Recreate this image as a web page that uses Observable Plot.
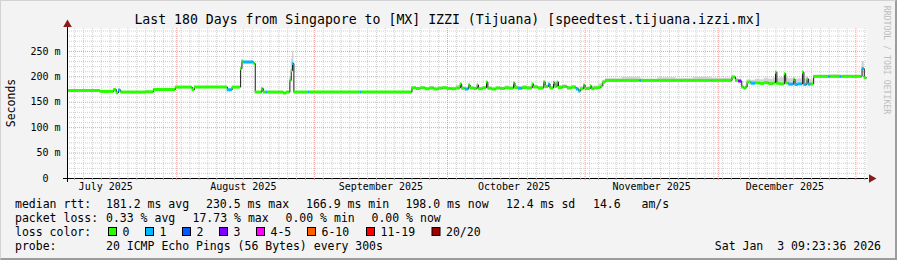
<!DOCTYPE html>
<html><head><meta charset="utf-8">
<script src="https://cdn.jsdelivr.net/npm/d3@7"></script>
<script src="https://cdn.jsdelivr.net/npm/@observablehq/plot@0.6"></script>
<style>
html,body{margin:0;padding:0;background:#f3f3f3;}
#wrap{position:relative;width:897px;height:260px;overflow:hidden;background:#f3f3f3;}
#wrap svg{display:block;}
#shade{position:absolute;left:0;top:0;width:897px;height:260px;box-sizing:border-box;border-style:solid;border-width:1px 2px 2px 1px;border-color:#d2d2d2 #9c9c9c #9c9c9c #d2d2d2;pointer-events:none;}
</style></head><body><div id="wrap"></div>
<script>
const FONT = "'DejaVu Sans Mono', monospace";
const startTime = new Date("2025-07-07T09:23:36Z");
const endTime = new Date("2026-01-03T09:23:36Z");

// days since start of window
const tDays = [
  0, 7.4, 10.4, 11.0, 11.5, 12.0, 17.6, 19.4, 24.3, 28.1, 28.6, 36.0, 37.1,
  39.0, 39.3, 39.6, 41.9, 42.0, 42.3, 43.8, 44.1, 44.8, 45.1, 48.7, 49.3,
  50.1, 50.4, 50.7, 51.0, 54.3, 54.6, 66.0, 66.3,
  77.6, 78.6, 79.6, 80.6, 81.6, 82.6, 83.6, 84.6, 85.6, 86.6, 87.6, 88.5, 88.8,
  89.6, 90.4, 90.7, 91.6, 92.3, 92.6, 93.6, 94.4, 94.7, 95.6, 96.6, 97.6, 98.6,
  99.6, 100.5, 100.8, 101.6, 102.6, 103.6, 104.7, 105.0, 106.0, 107.3, 107.6,
  108.4, 108.7, 109.5, 109.8, 110.3, 110.6, 111.6, 112.6, 113.6, 114.6, 115.2,
  115.6, 116.3, 116.6, 117.8, 118.1, 118.6, 119.6, 120.2, 120.6,
  121.2, 125.0, 129.0, 129.3, 133.0, 137.0, 141.0, 145.0, 149.7, 150.5, 151.2,
  151.9, 152.4, 152.8, 153.1,
  154.0, 155.0, 156.0, 157.0, 158.0, 159.0, 159.5, 159.8, 160.5, 161.5, 161.8,
  162.5, 163.6, 163.9, 164.6, 165.6, 165.9, 166.6, 166.9, 167.5, 168.1, 171.5,
  171.8, 174.1, 174.4, 179.0, 179.5, 180.0
];
// median rtt (ms)
const rttMs = [
  173, 171.3, 175, 168.5, 174, 170, 170.5, 175, 179.8, 174.5, 179.8, 174.5, 179.8,
  216, 230.5, 229, 229, 226, 170, 177, 170, 170, 170, 168, 170,
  193, 212, 226, 170, 170, 170, 170, 170,
  178.5, 177.0, 178.5, 176.5, 178.0, 176.0, 177.5, 178.5, 177.0, 176.5, 178.0, 186.0, 177.5,
  176.0, 184.0, 178.0, 177.0, 184.0, 176.5, 178.5, 189.6, 177.5, 176.0, 178.0, 177.0, 178.5,
  177.5, 188.0, 179.0, 177.5, 179.0, 178.0, 186.0, 180.0, 178.0, 190.0, 181.0,
  186.0, 178.0, 189.0, 181.0, 190.0, 179.0, 181.0, 178.0, 179.5, 176.0, 172.0,
  176.5, 184.0, 177.0, 182.0, 176.5, 178.0, 179.0, 182.0, 189.6,
  192.9, 192.9, 192.9, 192.9, 192.9, 192.9, 192.9, 192.9, 199.5, 192.9, 191.6,
  179.8, 177.5, 180.0, 189.6,
  187.5, 188.0, 187.0, 188.5, 186.5, 188.0, 209.0, 187.0, 186.0, 206.0, 188.0,
  185.5, 195.0, 185.0, 186.0, 209.0, 185.0, 196.0, 185.5, 186.0, 200.8, 200.8,
  200.8, 200.8, 200.8, 216.0, 198.0, 198.0
];
// lost pings out of 20
const lossN = [
  0, 0, 0, 0, 1, 0, 0, 0, 0, 0, 0, 1, 0,
  0, 0, 1, 0, 0, 0, 0, 0, 1, 0, 0, 0,
  0, 0, 1, 0, 1, 0, 1, 0,
  0, 0, 0, 0, 0, 0, 0, 0, 0, 0, 0, 0, 0,
  1, 0, 0, 0, 0, 0, 0, 0, 0, 0, 0, 0, 0,
  0, 0, 0, 1, 0, 0, 0, 0, 0, 0, 0,
  1, 0, 0, 0, 0, 0, 0, 0, 0, 1, 1,
  0, 0, 0, 0, 0, 0, 0, 0, 0,
  0, 0, 1, 0, 0, 0, 0, 0, 0, 0, 3,
  0, 0, 0, 0,
  1, 0, 0, 0, 0, 0, 0, 0, 0, 0, 0,
  1, 0, 1, 1, 0, 1, 0, 1, 0, 0, 1,
  0, 1, 0, 1, 0, 0
];
// upper edge of the ping "smoke" (ms)
const smokeMs = [
  174, 172.5, 176, 170, 175, 171, 172, 176, 181, 176, 181, 176, 181,
  220, 234, 231, 230, 228, 171, 178, 171, 171, 171, 169, 171,
  200, 235, 250, 171, 171, 171, 171, 171,
  180, 179, 180, 178, 181, 178, 180, 180, 179, 179, 183, 188, 180,
  178, 187, 180, 179, 186, 179, 181, 191, 180, 178, 180, 179, 182,
  180, 190, 182, 180, 183, 181, 188, 183, 181, 192, 184,
  188, 181, 191, 185, 191, 183, 184, 181, 183, 179, 176,
  180, 186, 180, 184, 180, 182, 186, 188, 193,
  196, 199, 197, 195, 198, 196, 199, 197, 202, 196, 195,
  183, 181, 184, 194,
  193, 195, 194, 197, 195, 198, 210, 196, 198, 208, 197,
  196, 200, 195, 196, 211, 196, 200, 195, 194, 203, 203,
  204, 202, 203, 230, 200, 198
];

const yTicks = [0, 50, 100, 150, 200, 250];
const monthStarts = ["2025-08-01", "2025-09-01", "2025-10-01", "2025-11-01", "2025-12-01", "2026-01-01"];
const monthLabelDates = ["2025-07-16", "2025-08-16", "2025-09-16", "2025-10-16", "2025-11-16", "2025-12-16"];
const monthLabels = ["July 2025", "August 2025", "September 2025", "October 2025", "November 2025", "December 2025"];
const lossBins = ["0", "1", "2", "3", "4-5", "6-10", "11-19", "20/20"];
const lossColors = ["#26ff00", "#00b8ff", "#0059ff", "#7e00ff", "#ff00ff", "#ff5e00", "#ff0000", "#a10000"];
const rttStats = ["181.2 ms avg", "230.5 ms max", "166.9 ms min", "198.0 ms now", "12.4 ms sd", "14.6   am/s"];
const lossStats = ["0.33 % avg", "17.73 % max", "0.00 % min", "0.00 % now"];
const titleText = "Last 180 Days from Singapore to [MX] IZZI (Tijuana) [speedtest.tijuana.izzi.mx]";
const probeText = "20 ICMP Echo Pings (56 Bytes) every 300s";
const stampText = "Sat Jan  3 09:23:36 2026";

function lossBin(n) {
  if (n <= 3) return n;
  if (n <= 5) return 4;
  if (n <= 10) return 5;
  if (n <= 19) return 6;
  return 7;
}

const DAY = 864e5;
const samples = tDays.map((d, i) => ({
  t: new Date(startTime.getTime() + d * DAY),
  v: rttMs[i], loss: lossN[i], smoke: smokeMs[i]
}));
const segs = samples.map((s, i) => ({
  x1: s.t, x2: i + 1 < samples.length ? samples[i + 1].t : endTime,
  y: s.v, c: lossColors[lossBin(s.loss)]
}));

const majorX = monthStarts.map(s => new Date(s + "T00:00:00Z"));
const majorMs = majorX.map(d => +d);
const minorX = [];
for (let t = Date.UTC(2025, 6, 9); t < +endTime; t += 2 * DAY) {
  if (!majorMs.includes(t)) minorX.push(new Date(t));
}
const minorY = d3.range(10, 295, 10).filter(v => v % 50 !== 0);
const majorY = yTicks.filter(v => v > 0);
const labelDates = monthLabelDates.map(s => new Date(s + "T00:00:00Z"));
const labelMs = labelDates.map(d => +d);

const chart = Plot.plot({
  width: 897, height: 260,
  marginLeft: 67, marginRight: 31, marginTop: 28, marginBottom: 82,
  x: {type: "utc", domain: [startTime, endTime]},
  y: {domain: [0, 295]},
  color: {type: "identity"},
  style: {background: "transparent", fontFamily: FONT, color: "black", overflow: "visible"},
  marks: [
    Plot.frame({fill: "white", stroke: null}),
    Plot.ruleY(minorY, {stroke: "#cfcfcf", strokeDasharray: "1,1"}),
    Plot.ruleX(minorX, {stroke: "#cfcfcf", strokeDasharray: "1,1"}),
    Plot.ruleY(majorY, {stroke: "#f09a9a", strokeDasharray: "1,1"}),
    Plot.ruleX(majorX, {stroke: "#f09a9a", strokeDasharray: "1,1"}),
    Plot.areaY(samples, {x: "t", y1: "v", y2: "smoke", curve: "step-after", fill: "#d2d2d2"}),
    Plot.line(samples, {x: "t", y: "v", curve: "step-after", stroke: "#1a1a1a", strokeWidth: 1}),
    Plot.ruleY(segs, {x1: "x1", x2: "x2", y: "y", stroke: "c", strokeWidth: 3}),
    Plot.ruleY([0], {stroke: "black", insetLeft: -4, insetRight: -2}),
    Plot.ruleX([startTime], {stroke: "black", insetTop: -4, insetBottom: -4}),
    Plot.dot([0], {frameAnchor: "top-left", dy: -4, symbol: "triangle", r: 3.2, fill: "#8b1a1a", stroke: null}),
    Plot.dot([0], {frameAnchor: "bottom-right", dx: 5, symbol: "triangle", rotate: 90, r: 3.2, fill: "#8b1a1a", stroke: null}),
    Plot.axisY({ticks: yTicks, tickSize: 0, tickPadding: 7, fontSize: 10, label: null,
      tickFormat: d => d === 0 ? "0\u00a0\u00a0" : d + " m"}),
    Plot.axisX({ticks: minorX, tickSize: 2, tickFormat: () => "", label: null, stroke: "#aaaaaa"}),
    Plot.axisX({ticks: majorX, tickSize: 2, tickFormat: () => "", label: null, stroke: "#e08080"}),
    Plot.axisX({ticks: labelDates, tickSize: 0, tickPadding: 4, fontSize: 10, label: null,
      tickFormat: d => monthLabels[labelMs.indexOf(+d)]})
  ]
});

const wrap = document.getElementById("wrap");
wrap.appendChild(chart);
const shade = document.createElement("div");
shade.id = "shade";
wrap.appendChild(shade);

const svg = d3.select(chart);
const txt = (x, y, s, size, anchor = "start") => svg.append("text")
  .attr("x", x).attr("y", y).attr("font-family", FONT).attr("font-size", size)
  .attr("text-anchor", anchor).attr("dominant-baseline", "central")
  .attr("fill", "black").style("white-space", "pre").text(s);

txt(448, 19, titleText, 13.2, "middle");
svg.append("text").attr("transform", "translate(11,103) rotate(-90)")
  .attr("font-family", FONT).attr("font-size", 11.5).attr("text-anchor", "middle")
  .attr("dominant-baseline", "central").attr("fill", "black").text("Seconds");
svg.append("text").attr("transform", "translate(887,60) rotate(90)")
  .attr("font-family", FONT).attr("font-size", 8.2).attr("text-anchor", "middle")
  .attr("dominant-baseline", "central").attr("fill", "#bdbdbd").text("RRDTOOL / TOBI OETIKER");

const LF = 11.5;
const row1 = 204, row2 = 218, row3 = 232, row4 = 246;
txt(15, row1, "median rtt:", LF);
[106, 206, 306, 405.5, 506, 593].forEach((x, i) => txt(x, row1, rttStats[i], LF));
txt(15, row2, "packet loss:", LF);
[106, 192.5, 285.5, 371.5].forEach((x, i) => txt(x, row2, lossStats[i], LF));
txt(15, row3, "loss color:", LF);
const boxX = [108, 145, 182, 219, 256, 307, 366, 431.5];
boxX.forEach((x, i) => {
  svg.append("rect").attr("x", x + 0.5).attr("y", row3 - 4.5).attr("width", 8).attr("height", 8)
    .attr("fill", lossColors[i]).attr("stroke", "black").attr("stroke-width", 1);
  txt(x + 14.5, row3, lossBins[i], LF);
});
txt(15, row4, "probe:", LF);
txt(106, row4, probeText, LF);
txt(881, row4, stampText, LF, "end");
</script></body></html>
